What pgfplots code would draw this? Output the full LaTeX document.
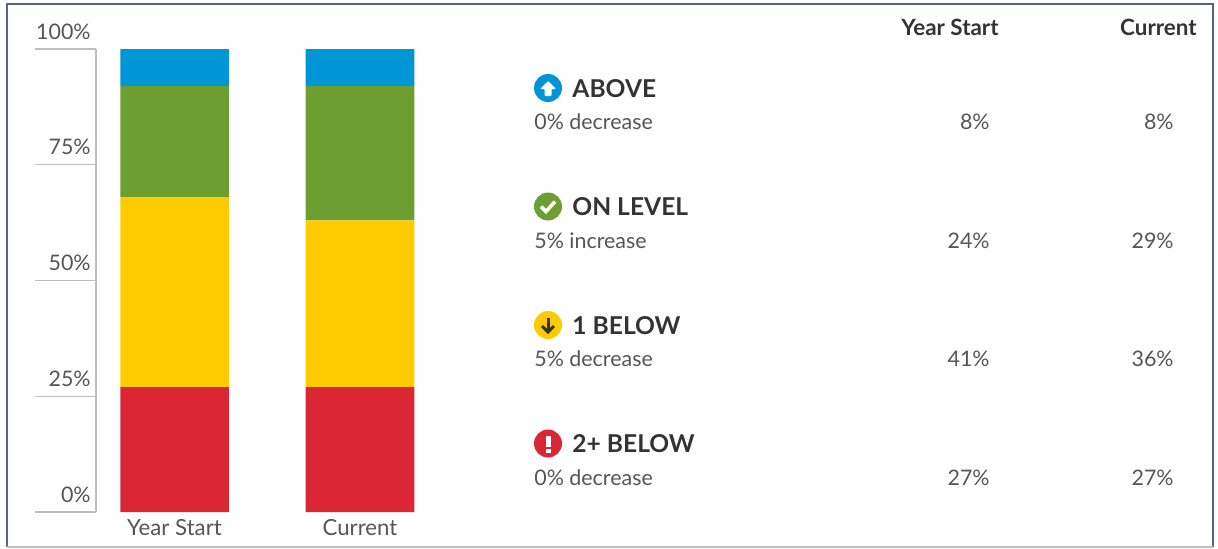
\documentclass[border=0pt]{standalone}
\usepackage{fontspec}
\setmainfont{Lato}
\usepackage{pgfplots}
\pgfplotsset{compat=1.18}

\definecolor{cblue}{HTML}{0096D6}
\definecolor{cgreen}{HTML}{6D9E31}
\definecolor{cyellow}{HTML}{FFCB00}
\definecolor{cred}{HTML}{DB2636}
\definecolor{ctext}{HTML}{555555}
\definecolor{chead}{HTML}{333333}
\definecolor{cframe}{HTML}{55657F}
\definecolor{caxis}{HTML}{BFBFBF}

% one row of the table on the right: y, name, change, year start, current
\newcommand{\row}[5]{%
  \node[anchor=base west,font=\fontsize{12.3}{15}\selectfont\bfseries,text=chead,inner sep=0pt] at (572,#1+9) {#2};
  \node[anchor=base west,font=\fontsize{10.7}{13}\selectfont,text=ctext,inner sep=0pt] at (534,#1+41.5) {#3};
  \node[anchor=base east,font=\fontsize{10.7}{13}\selectfont,text=ctext,inner sep=0pt] at (990,#1+41.5) {#4};
  \node[anchor=base east,font=\fontsize{10.7}{13}\selectfont,text=ctext,inner sep=0pt] at (1174,#1+41.5) {#5};
}

\begin{document}
\begin{tikzpicture}[x=0.5pt,y=-0.5pt]
\useasboundingbox (0,0) rectangle (1218,548);
\draw[cframe,line width=1pt] (7,547) -- (7,4) -- (1213,4) -- (1213,547);
\draw[caxis,line width=0.6pt] (7,547) -- (1213,547);

\begin{axis}[
  at={(48pt,-256pt)},
  anchor=south west,
  scale only axis,
  width=162pt,
  height=231.5pt,
  ybar stacked,
  bar width=54.25pt,
  xmin=-0.4232, xmax=1.3235,
  ymin=0, ymax=100,
  axis y line*=left,
  axis x line*=bottom,
  x axis line style={draw=none},
  y axis line style={draw=caxis,line width=0.6pt},
  xtick={0,1},
  xticklabels={Year Start,Current},
  xtick style={draw=none},
  ytick={0,25,50,75,100},
  yticklabels={0\%,25\%,50\%,75\%,100\%},
  ytick style={draw=caxis,line width=0.6pt},
  tick align=outside,
  major tick length=30.5pt,
  tick label style={font=\fontsize{10.7}{13}\selectfont,text=ctext},
  yticklabel style={anchor=base east,inner sep=0pt,xshift=28pt,yshift=4.9pt},
  xticklabel style={font=\fontsize{11.1}{13}\selectfont,anchor=base,inner sep=0pt,yshift=19pt},
  clip=false,
]
\addplot[fill=cred,draw=none] coordinates {(0,27)(1,27)};
\addplot[fill=cyellow,draw=none] coordinates {(0,41)(1,36)};
\addplot[fill=cgreen,draw=none] coordinates {(0,24)(1,29)};
\addplot[fill=cblue,draw=none] coordinates {(0,8)(1,8)};
\end{axis}

\node[anchor=base east,font=\fontsize{11.2}{13}\selectfont\bfseries,text=chead,inner sep=0pt] at (999,35) {Year Start};
\node[anchor=base east,font=\fontsize{11.2}{13}\selectfont\bfseries,text=chead,inner sep=0pt] at (1197,35) {Current};

\row{88}{ABOVE}{0\% decrease}{8\%}{8\%}
\row{206.5}{ON LEVEL}{5\% increase}{24\%}{29\%}
\row{325}{1 BELOW}{5\% decrease}{41\%}{36\%}
\row{443.5}{2+ BELOW}{0\% decrease}{27\%}{27\%}

% status icons
\begin{scope}[shift={(548,88)}]
  \fill[cblue] (0,0) circle[radius=14];
  \fill[white,rounded corners=0.5pt] (0,-7) -- (8,1) -- (3.5,1) -- (3.5,8) -- (-3.5,8) -- (-3.5,1) -- (-8,1) -- cycle;
\end{scope}
\begin{scope}[shift={(548,206.5)}]
  \fill[cgreen] (0,0) circle[radius=14];
  \draw[white,line width=1.8pt] (-7,0) -- (-2,5) -- (7,-5);
\end{scope}
\begin{scope}[shift={(548,325)}]
  \fill[cyellow] (0,0) circle[radius=14];
  \draw[chead,line width=1.5pt] (0,-7) -- (0,6);
  \draw[chead,line width=1.5pt] (-6,1) -- (0,7) -- (6,1);
\end{scope}
\begin{scope}[shift={(548,443.5)}]
  \fill[cred] (0,0) circle[radius=14];
  \fill[white] (-2.5,-8) rectangle (2.5,3);
  \fill[white] (-2.5,5) rectangle (2.5,9);
\end{scope}
\end{tikzpicture}
\end{document}
